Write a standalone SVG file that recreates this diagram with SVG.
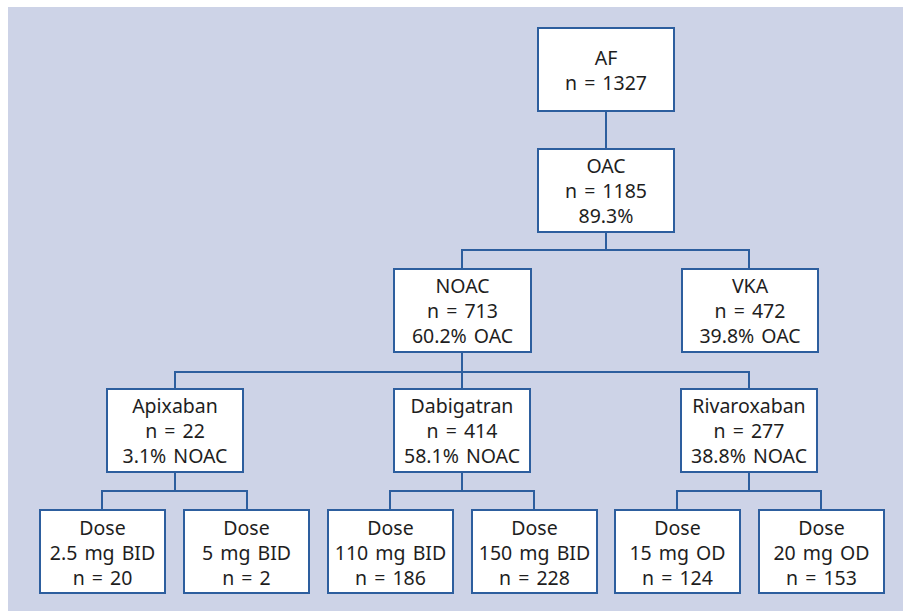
<svg xmlns="http://www.w3.org/2000/svg" width="903" height="611" viewBox="0 0 903 611">
<style>
.box{fill:#ffffff;stroke:#2d5e9e;stroke-width:2}
.ln{fill:none;stroke:#2d5e9e;stroke-width:2}
text{font-family:"Noto Sans","Open Sans",sans-serif;font-size:19.5px;fill:#1e1e1e;text-anchor:middle;word-spacing:2px}
</style>
<rect x="8" y="7" width="895" height="604" fill="#cdd3e7"/>
<g id="connectors">
<path class="ln" d="M606 111V149"/>
<path class="ln" d="M606 232V250M462 269V250H749V269"/>
<path class="ln" d="M462 352V372M175 389V372H749V389M462 372V389"/>
<path class="ln" d="M175 472V491M102 510V491H247V510"/>
<path class="ln" d="M462 472V491M390 510V491H534V510"/>
<path class="ln" d="M749 472V491M677 510V491H821V510"/>
</g>
<g id="af"><rect class="box" x="538" y="28" width="136" height="83"/><text x="606" y="65">AF</text><text x="606" y="90">n = 1327</text></g>
<g id="oac"><rect class="box" x="538" y="149" width="136" height="83"/><text x="606" y="173">OAC</text><text x="606" y="198">n = 1185</text><text x="606" y="223">89.3%</text></g>
<g id="noac"><rect class="box" x="394" y="269" width="137" height="83"/><text x="462.5" y="293">NOAC</text><text x="462.5" y="318">n = 713</text><text x="462.5" y="343">60.2% OAC</text></g>
<g id="vka"><rect class="box" x="682" y="269" width="136" height="83"/><text x="750" y="293">VKA</text><text x="750" y="318">n = 472</text><text x="750" y="343">39.8% OAC</text></g>
<g id="apixaban"><rect class="box" x="107" y="389" width="136" height="83"/><text x="175" y="413">Apixaban</text><text x="175" y="438">n = 22</text><text x="175" y="463">3.1% NOAC</text></g>
<g id="dabigatran"><rect class="box" x="394" y="389" width="136" height="83"/><text x="462" y="413">Dabigatran</text><text x="462" y="438">n = 414</text><text x="462" y="463">58.1% NOAC</text></g>
<g id="rivaroxaban"><rect class="box" x="681" y="389" width="136" height="83"/><text x="749" y="413">Rivaroxaban</text><text x="749" y="438">n = 277</text><text x="749" y="463">38.8% NOAC</text></g>
<g id="dose1"><rect class="box" x="40" y="510" width="125" height="83"/><text x="102.5" y="535">Dose</text><text x="102.5" y="560">2.5 mg BID</text><text x="102.5" y="585">n = 20</text></g>
<g id="dose2"><rect class="box" x="184" y="510" width="125" height="83"/><text x="246.5" y="535">Dose</text><text x="246.5" y="560">5 mg BID</text><text x="246.5" y="585">n = 2</text></g>
<g id="dose3"><rect class="box" x="328" y="510" width="125" height="83"/><text x="390.5" y="535">Dose</text><text x="390.5" y="560">110 mg BID</text><text x="390.5" y="585">n = 186</text></g>
<g id="dose4"><rect class="box" x="472" y="510" width="125" height="83"/><text x="534.5" y="535">Dose</text><text x="534.5" y="560">150 mg BID</text><text x="534.5" y="585">n = 228</text></g>
<g id="dose5"><rect class="box" x="615" y="510" width="125" height="83"/><text x="677.5" y="535">Dose</text><text x="677.5" y="560">15 mg OD</text><text x="677.5" y="585">n = 124</text></g>
<g id="dose6"><rect class="box" x="759" y="510" width="125" height="83"/><text x="821.5" y="535">Dose</text><text x="821.5" y="560">20 mg OD</text><text x="821.5" y="585">n = 153</text></g>
</svg>
